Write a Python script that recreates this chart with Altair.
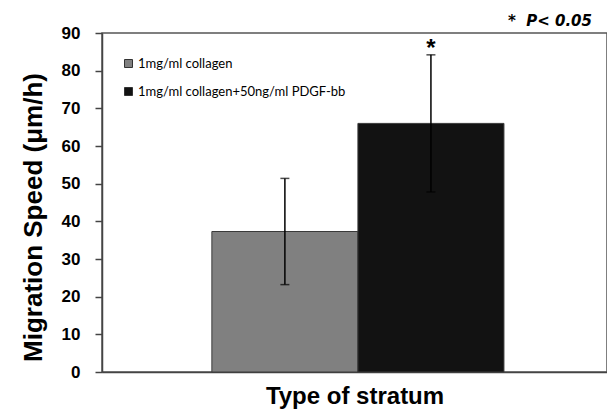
import altair as alt
import pandas as pd

series = ["1mg/ml collagen", "1mg/ml collagen+50ng/ml PDGF-bb"]
means = [37.3, 66.0]
errors = [14.1, 18.2]
colors = ["#808080", "#121212"]
sig = ["", "*"]
y_ticks = [0, 10, 20, 30, 40, 50, 60, 70, 80, 90]

df = pd.DataFrame({
    "series": series,
    "mean": means,
    "lo": [m - e for m, e in zip(means, errors)],
    "hi": [m + e for m, e in zip(means, errors)],
    "sig": sig,
})

xaxis = alt.Axis(labels=False, ticks=False, title="Type of stratum",
                 titleFont="Liberation Sans", titleFontSize=24,
                 titleFontWeight="bold", titleColor="black",
                 titlePadding=12, domainColor="#444", domainWidth=1.5)
yaxis = alt.Axis(values=y_ticks, tickCount=10, grid=False, title="Migration Speed (μm/h)",
                 titleFont="Liberation Sans", titleFontSize=26,
                 titleFontWeight="bold", titleColor="black", titlePadding=15,
                 titleY=184,
                 labelFont="Liberation Sans", labelFontSize=17,
                 labelFontWeight="bold", labelColor="black", labelPadding=15,
                 labelOverlap=False, labelFlush=False,
                 tickSize=7, tickColor="#444", tickWidth=1.5,
                 domainColor="#444", domainWidth=1.5)
xscale = alt.Scale(domain=series, paddingInner=0, paddingOuter=0.729, align=0.516)
yscale = alt.Scale(domain=[0, 90], nice=False, zero=True)


def X():
    return alt.X("series:N", scale=xscale, sort=series, axis=xaxis)


def Y(field):
    return alt.Y(field, scale=yscale, axis=yaxis)


bars = alt.Chart(df).mark_bar(stroke="#3a3a3a", strokeWidth=1).encode(
    x=X(),
    y=Y("mean:Q"),
    color=alt.Color("series:N", scale=alt.Scale(domain=series, range=colors),
                    legend=alt.Legend(title=None, orient="none", legendX=20, legendY=24,
                                      symbolType="square", symbolSize=64,
                                      symbolStrokeColor="#333", symbolStrokeWidth=1,
                                      labelFont="Lato", labelFontSize=13,
                                      labelColor="black", rowPadding=14,
                                      labelOffset=3, labelLimit=400)),
)

rules = alt.Chart(df).mark_rule(color="black", strokeWidth=1.5).encode(
    x=X(),
    y=Y("lo:Q"),
    y2="hi:Q",
)

caps_hi = alt.Chart(df).mark_tick(color="black", size=9, thickness=1.5).encode(
    x=X(),
    y=Y("hi:Q"),
)
caps_lo = alt.Chart(df).mark_tick(color="black", size=9, thickness=1.5).encode(
    x=X(),
    y=Y("lo:Q"),
)

star = alt.Chart(df).mark_text(font="Liberation Sans", fontSize=24, fontWeight="bold",
                               color="black", baseline="alphabetic", dy=1).encode(
    x=X(),
    y=Y("hi:Q"),
    text="sig:N",
)

ptext = alt.Chart(pd.DataFrame({"t": ["*\u00a0\u00a0P<\u00a00.05"]})).mark_text(
    font="DejaVu Sans", fontSize=15, fontWeight="bold", fontStyle="italic",
    color="black", align="right", baseline="middle", clip=False,
).encode(x=alt.value(490), y=alt.value(-12), text="t:N")

chart = alt.layer(bars, rules, caps_hi, caps_lo, star, ptext).properties(
    width=505, height=339,
    autosize=alt.AutoSizeParams(type="none"),
    padding={"left": 94, "top": 25, "right": 0, "bottom": 37},
).configure_view(stroke="#555", strokeWidth=1.5)

chart.save("out.html", embed_options={"renderer": "svg", "actions": False})
